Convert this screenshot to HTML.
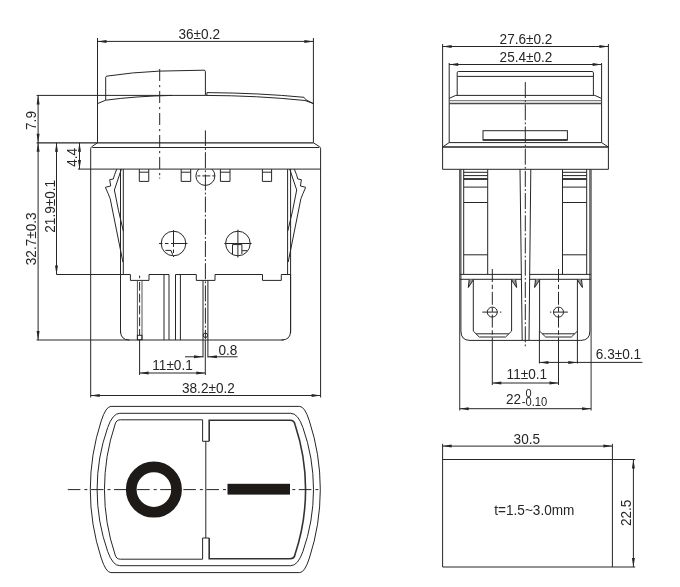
<!DOCTYPE html>
<html><head><meta charset="utf-8"><title>Rocker switch drawing</title>
<style>
html,body{margin:0;padding:0;background:#fff;}
svg{display:block;will-change:transform;opacity:0.999;}
svg *{vector-effect:none;}
text{font-family:"Liberation Sans",sans-serif;fill:#262626;stroke:none;}
</style></head><body>
<svg width="680" height="587" viewBox="0 0 680 587" fill="none" stroke="#262626" stroke-linecap="butt" stroke-linejoin="miter">
<rect x="0" y="0" width="680" height="587" fill="#fff" stroke="none"/>
<line x1="97.5" y1="38" x2="97.5" y2="142.8" stroke-width="1" />
<line x1="313.4" y1="38" x2="313.4" y2="142.8" stroke-width="1" />
<line x1="97.5" y1="41.4" x2="313.4" y2="41.4" stroke-width="1" />
<polygon points="97.50,41.40 106.50,39.90 106.50,42.90" fill="#262626" stroke="none"/>
<polygon points="313.40,41.40 304.40,42.90 304.40,39.90" fill="#262626" stroke="none"/>
<text x="0" y="0" font-size="13.6" text-anchor="start" transform="translate(178.5 38.8) scale(1 1.06)" >36±0.2</text>
<path d="M105.7,100.2 L105.7,77.3 Q105.7,76.3 107,76.1 Q132,72.3 159.6,71.1 L204,70.2 Q205.4,70.2 205.4,71.6 L205.4,95.4" stroke-width="1" />
<line x1="36.6" y1="95.4" x2="205.4" y2="95.4" stroke-width="1" />
<path d="M97.5,103.6 L105.7,100.2 Q135,96.2 172,95.4" stroke-width="1" />
<path d="M206.9,95.4 L206.9,92.6 Q260,93 304,97.3 L306,99.8 L313.4,103.6" stroke-width="1" />
<path d="M205.4,95.4 Q258,95.6 305,100.5 L313.4,103.6" stroke-width="1" />
<line x1="36.6" y1="142.8" x2="313.4" y2="142.8" stroke-width="1.2" />
<path d="M97.5,142.8 L91.6,146.8 Q90.7,147.5 90.7,148.6 L90.7,397.5" stroke-width="1" />
<path d="M313.4,142.8 L319.7,146.8 Q320.6,147.5 320.6,148.6 L320.6,397.5" stroke-width="1" />
<line x1="92.3" y1="147.5" x2="319.2" y2="147.5" stroke-width="1" />
<line x1="78" y1="169.1" x2="320.6" y2="169.1" stroke-width="1" />
<line x1="159.7" y1="69" x2="159.7" y2="176" stroke-width="1" stroke-dasharray="12 4 2.2 3.8"/>
<line x1="159.7" y1="177.6" x2="159.7" y2="178.6" stroke-width="1" />
<line x1="205.4" y1="130.4" x2="205.4" y2="339" stroke-width="1" stroke-dasharray="16 2.2 1.8 2.2" stroke-dashoffset="0.4"/>
<path d="M139.3,169.1 L139.3,181.4 L148.75,181.4 L148.75,169.1 M139.3,172.2 L148.75,172.2" stroke-width="1" />
<path d="M181.2,169.1 L181.2,181.4 L190.7,181.4 L190.7,169.1 M181.2,172.2 L190.7,172.2" stroke-width="1" />
<path d="M220.4,169.1 L220.4,181.4 L230,181.4 L230,169.1 M220.4,172.2 L230,172.2" stroke-width="1" />
<path d="M262.4,169.1 L262.4,181.4 L271.6,181.4 L271.6,169.1 M262.4,172.2 L271.6,172.2" stroke-width="1" />
<clipPath id="c1"><rect x="190" y="169.1" width="30" height="30"/></clipPath>
<circle cx="205.4" cy="175.9" r="9.5" stroke-width="1" clip-path="url(#c1)"/>
<line x1="197.3" y1="175.9" x2="215" y2="175.9" stroke-width="1" stroke-dasharray="3 2 8 2 3"/>
<line x1="120.5" y1="169.1" x2="120.5" y2="333" stroke-width="1" />
<line x1="123.3" y1="169.1" x2="123.3" y2="274.5" stroke-width="1" />
<line x1="287.6" y1="169.1" x2="287.6" y2="274.5" stroke-width="1" />
<line x1="290.6" y1="169.1" x2="290.6" y2="333" stroke-width="1" />
<path d="M116.8,169.1 L114.6,174.6 L113.3,179 L109.7,179.7 L110.7,186 L105.4,187.3 Q108.6,194.5 110.2,198.7 L122.9,262" stroke-width="1" />
<path d="M121.4,169.1 L114.4,190 Q118.0,210 123.3,231" stroke-width="1" />
<path d="M294.3,169.1 L296.5,174.6 L297.8,179 L301.4,179.7 L300.4,186 L305.7,187.3 Q302.5,194.5 300.9,198.7 L288.2,262" stroke-width="1" />
<path d="M289.7,169.1 L296.7,190 Q293.1,210 287.8,231" stroke-width="1" />
<circle cx="173.5" cy="243.5" r="12.3" stroke-width="1" />
<line x1="173.5" y1="243.5" x2="173.5" y2="230.2" stroke-width="1" />
<line x1="173.5" y1="243.5" x2="187.5" y2="243.5" stroke-width="1" />
<line x1="159" y1="243.5" x2="173.5" y2="243.5" stroke-width="1" stroke-dasharray="3.5 2.5"/>
<line x1="173.5" y1="243.5" x2="173.5" y2="257" stroke-width="1" stroke-dasharray="3.5 2.5"/>
<path d="M165.4,250.4 L171,250.4 L172.7,254.8" stroke-width="1" />
<circle cx="237.9" cy="243.5" r="12.3" stroke-width="1" />
<line x1="237.9" y1="229.7" x2="237.9" y2="257.5" stroke-width="1" />
<line x1="224.4" y1="243.5" x2="251.6" y2="243.5" stroke-width="1" />
<path d="M232.5,254 L232.5,244.6 L241.9,244.6 L241.9,254 M241.9,250.7 L247,250.7" stroke-width="1" />
<path d="M56.5,274.5 L130.4,274.5 L130.4,280.4 L149,280.4 L149,274.5 L169,274.5 M175.5,274.5 L196.3,274.5 L196.3,280.4 L215,280.4 L215,274.5 L262.5,274.5 L262.5,280.4 L281.3,280.4 L281.3,274.5 L290.6,274.5" stroke-width="1" />
<path d="M120.5,274.5 L120.5,331 Q120.5,340 129.5,340 M281.6,340 Q290.6,340 290.6,331 L290.6,274.5" stroke-width="1" />
<line x1="36.6" y1="340" x2="283.6" y2="340" stroke-width="1" />
<line x1="164" y1="274.5" x2="164" y2="340" stroke-width="1" />
<line x1="169" y1="274.5" x2="169" y2="340" stroke-width="1" />
<line x1="175.5" y1="274.5" x2="175.5" y2="340" stroke-width="1" />
<line x1="180.4" y1="274.5" x2="180.4" y2="340" stroke-width="1" />
<line x1="137.4" y1="280.4" x2="137.4" y2="340" stroke-width="1" stroke="#555"/>
<line x1="142" y1="280.4" x2="142" y2="340" stroke-width="1" stroke="#555"/>
<line x1="139.6" y1="275.6" x2="139.6" y2="278.2" stroke-width="1" />
<line x1="139.6" y1="281.9" x2="139.6" y2="335.3" stroke-width="1" stroke-dasharray="8.8 3"/>
<rect x="137.4" y="335.3" width="4.6" height="4.4" stroke-width="1" />
<line x1="203" y1="280.4" x2="203" y2="357.5" stroke-width="1" />
<line x1="207.9" y1="280.4" x2="207.9" y2="357.5" stroke-width="1" />
<circle cx="205.4" cy="335.3" r="2.2" stroke-width="1" />
<line x1="139.6" y1="340" x2="139.6" y2="375" stroke-width="1" />
<line x1="205.3" y1="340" x2="205.3" y2="375" stroke-width="1" />
<line x1="139.6" y1="373" x2="205.3" y2="373" stroke-width="1" />
<polygon points="139.60,373.00 148.60,371.50 148.60,374.50" fill="#262626" stroke="none"/>
<polygon points="205.30,373.00 196.30,374.50 196.30,371.50" fill="#262626" stroke="none"/>
<text x="0" y="0" font-size="13.6" text-anchor="start" transform="translate(152.3 370) scale(1 1.06)" >11±0.1</text>
<line x1="185" y1="356.8" x2="203" y2="356.8" stroke-width="1" />
<polygon points="203.00,356.80 194.00,358.30 194.00,355.30" fill="#262626" stroke="none"/>
<line x1="207.9" y1="356.8" x2="237.5" y2="356.8" stroke-width="1" />
<polygon points="207.90,356.80 216.90,355.30 216.90,358.30" fill="#262626" stroke="none"/>
<text x="0" y="0" font-size="13.6" text-anchor="start" transform="translate(218.5 355) scale(1 1.06)" >0.8</text>
<line x1="90.7" y1="395.5" x2="320.6" y2="395.5" stroke-width="1" />
<polygon points="90.70,395.50 99.70,394.00 99.70,397.00" fill="#262626" stroke="none"/>
<polygon points="320.60,395.50 311.60,397.00 311.60,394.00" fill="#262626" stroke="none"/>
<text x="0" y="0" font-size="13.6" text-anchor="start" transform="translate(182 392.6) scale(1 1.06)" >38.2±0.2</text>
<line x1="38.1" y1="95.4" x2="38.1" y2="142.8" stroke-width="1" />
<polygon points="38.10,95.40 39.60,104.40 36.60,104.40" fill="#262626" stroke="none"/>
<polygon points="38.10,142.80 36.60,133.80 39.60,133.80" fill="#262626" stroke="none"/>
<line x1="38.1" y1="142.8" x2="38.1" y2="340" stroke-width="1" />
<polygon points="38.10,142.80 39.60,151.80 36.60,151.80" fill="#262626" stroke="none"/>
<polygon points="38.10,340.00 36.60,331.00 39.60,331.00" fill="#262626" stroke="none"/>
<line x1="56.5" y1="142.8" x2="56.5" y2="274.5" stroke-width="1" />
<polygon points="56.50,142.80 58.00,151.80 55.00,151.80" fill="#262626" stroke="none"/>
<polygon points="56.50,274.50 55.00,265.50 58.00,265.50" fill="#262626" stroke="none"/>
<line x1="79.5" y1="142.8" x2="79.5" y2="169.1" stroke-width="1" />
<polygon points="79.50,142.80 81.00,151.80 78.00,151.80" fill="#262626" stroke="none"/>
<polygon points="79.50,169.10 78.00,160.10 81.00,160.10" fill="#262626" stroke="none"/>
<text x="0" y="0" font-size="13.6" text-anchor="middle" transform="translate(35.8 120.5) rotate(-90) scale(1 1.06)" >7.9</text>
<text x="0" y="0" font-size="13.6" text-anchor="middle" transform="translate(35.8 238.8) rotate(-90) scale(1 1.06)" >32.7±0.3</text>
<text x="0" y="0" font-size="13.6" text-anchor="middle" transform="translate(54.6 206.3) rotate(-90) scale(1 1.06)" >21.9±0.1</text>
<text x="0" y="0" font-size="13.6" text-anchor="middle" transform="translate(76.7 157.3) rotate(-90) scale(1 1.06)" >4.4</text>
<path d="M110.9,406.4 L299.70000000000005,406.4 Q304.70000000000005,406.4 309.40000000000003,421 A220.7,220.7 0 0 1 309.40000000000003,558.0 Q304.70000000000005,572.6 299.70000000000005,572.6 L110.9,572.6 Q105.9,572.6 101.2,558.0 A220.7,220.7 0 0 1 101.2,421 Q105.9,406.4 110.9,406.4 Z" stroke-width="1" />
<path d="M119.8,413.3 L290.8,413.3 Q297.90000000000003,413.3 302.90000000000003,427.5 A186.6,186.6 0 0 1 302.90000000000003,551.5 Q297.90000000000003,565.7 290.8,565.7 L119.8,565.7 Q112.7,565.7 107.7,551.5 A186.6,186.6 0 0 1 107.7,427.5 Q112.7,413.3 119.8,413.3 Z" stroke-width="1" />
<path d="M202.6,441.3 L202.6,419.8 L120.5,419.8 Q116.3,419.8 115.2,424 A205,205 0 0 0 115.2,555 Q116.3,559.2 120.5,559.2 L202.6,559.2 L202.6,538" stroke-width="1" />
<path d="M209.2,441.3 L209.2,420.3 L290.1,420.3 Q294.3,420.3 295.0,424.5 A205,205 0 0 1 295.0,554.5 Q294.3,558.7 290.1,558.7 L209.2,558.7 L209.2,538" stroke-width="1.6" stroke="#333"/>
<path d="M202.6,441.3 L209.2,441.3 M202.6,538 L209.2,538" stroke-width="1" />
<line x1="205.8" y1="441.3" x2="205.8" y2="538" stroke-width="1" />
<line x1="67.8" y1="489.6" x2="320.5" y2="489.6" stroke-width="1" stroke-dasharray="12.6 4 3 3.5"/>
<circle cx="153.9" cy="489.6" r="22.65" stroke-width="10.7" stroke="#1d1a17"/>
<rect x="227.5" y="483.8" width="62.5" height="10.8" fill="#1d1a17" stroke="none"/>
<line x1="442.6" y1="44" x2="442.6" y2="169.3" stroke-width="1" />
<line x1="608.4" y1="44" x2="608.4" y2="169.3" stroke-width="1" />
<line x1="442.6" y1="46.5" x2="608.4" y2="46.5" stroke-width="1" />
<polygon points="442.60,46.50 451.60,45.00 451.60,48.00" fill="#262626" stroke="none"/>
<polygon points="608.40,46.50 599.40,48.00 599.40,45.00" fill="#262626" stroke="none"/>
<text x="0" y="0" font-size="13.6" text-anchor="start" transform="translate(499.6 44) scale(1 1.06)" >27.6±0.2</text>
<line x1="449.2" y1="63" x2="449.2" y2="142.6" stroke-width="1" />
<line x1="601.6" y1="63" x2="601.6" y2="142.6" stroke-width="1" />
<line x1="449.2" y1="64.5" x2="601.6" y2="64.5" stroke-width="1" />
<polygon points="449.20,64.50 458.20,63.00 458.20,66.00" fill="#262626" stroke="none"/>
<polygon points="601.60,64.50 592.60,66.00 592.60,63.00" fill="#262626" stroke="none"/>
<text x="0" y="0" font-size="13.6" text-anchor="start" transform="translate(499.6 62.3) scale(1 1.06)" >25.4±0.2</text>
<path d="M457.2,95.4 L457.2,72.8 Q457.2,71.5 458.5,71.5 L592.1,71.5 Q593.4,71.5 593.4,72.8 L593.4,95.4" stroke-width="1" />
<line x1="457.2" y1="76.4" x2="593.4" y2="76.4" stroke-width="1" />
<path d="M449.2,98.4 L455.7,95.4 L594.8,95.4 L601.5,98.4" stroke-width="1" />
<line x1="449.2" y1="100.7" x2="601.6" y2="100.7" stroke-width="1" stroke="#666"/>
<line x1="449.2" y1="103.6" x2="601.6" y2="103.6" stroke-width="1.5" stroke="#4a4a4a"/>
<rect x="483" y="130.7" width="84.4" height="9.3" stroke-width="1" />
<line x1="483" y1="140" x2="567.4" y2="140" stroke-width="1.6" />
<path d="M442.6,147 L449.2,142.6 L601.6,142.6 L608.4,147" stroke-width="1" />
<line x1="442.6" y1="147" x2="608.4" y2="147" stroke-width="1.5" />
<line x1="442.6" y1="169.3" x2="608.4" y2="169.3" stroke-width="1" />
<line x1="525.3" y1="82.1" x2="525.3" y2="348" stroke-width="1" stroke-dasharray="16 2.2 1.8 2.2"/>
<line x1="459.7" y1="169.3" x2="459.7" y2="410.6" stroke-width="1.1" stroke="#444"/>
<line x1="460.9" y1="169.3" x2="460.9" y2="331" stroke-width="1" />
<line x1="463.7" y1="169.3" x2="463.7" y2="274.4" stroke-width="1" />
<line x1="487.7" y1="169.3" x2="487.7" y2="274.4" stroke-width="1" />
<line x1="562.5" y1="169.3" x2="562.5" y2="274.4" stroke-width="1" />
<line x1="586.7" y1="169.3" x2="586.7" y2="274.4" stroke-width="1" />
<line x1="591.1" y1="169.3" x2="591.1" y2="410.6" stroke-width="1.1" stroke="#444"/>
<line x1="589.9" y1="169.3" x2="589.9" y2="331" stroke-width="1" />
<line x1="463.7" y1="172.3" x2="487.7" y2="172.3" stroke-width="1" />
<line x1="463.7" y1="175.6" x2="487.7" y2="175.6" stroke-width="1" />
<line x1="463.7" y1="179" x2="487.7" y2="179" stroke-width="1.8" />
<line x1="463.7" y1="187.1" x2="487.7" y2="187.1" stroke-width="1" />
<line x1="463.7" y1="202.5" x2="487.7" y2="202.5" stroke-width="1" />
<line x1="463.7" y1="254.8" x2="487.7" y2="254.8" stroke-width="1" />
<line x1="562.5" y1="172.3" x2="586.7" y2="172.3" stroke-width="1" />
<line x1="562.5" y1="175.6" x2="586.7" y2="175.6" stroke-width="1" />
<line x1="562.5" y1="179" x2="586.7" y2="179" stroke-width="1.8" />
<line x1="562.5" y1="187.1" x2="586.7" y2="187.1" stroke-width="1" />
<line x1="562.5" y1="202.5" x2="586.7" y2="202.5" stroke-width="1" />
<line x1="562.5" y1="254.8" x2="586.7" y2="254.8" stroke-width="1" />
<line x1="520" y1="169.3" x2="522.2" y2="340.4" stroke-width="1" />
<line x1="530.8" y1="169.3" x2="529" y2="340.4" stroke-width="1" />
<line x1="460" y1="274.4" x2="521.3" y2="274.4" stroke-width="1" />
<line x1="460" y1="279.3" x2="521.4" y2="279.3" stroke-width="1" />
<line x1="529.6" y1="274.4" x2="590.8" y2="274.4" stroke-width="1" />
<line x1="529.6" y1="279.3" x2="590.8" y2="279.3" stroke-width="1" />
<path d="M473.3,279.3 L473.3,331.1 L479.3,337 L505.6,337 L511.6,331.1 L511.6,279.3" stroke-width="1" />
<line x1="476.1" y1="333.8" x2="508.8" y2="333.8" stroke-width="1" />
<path d="M469.2,279.3 L468.3,287.5 L473.3,280 M515.7,279.3 L516.6,287.5 L511.6,280" stroke-width="1" fill="#999"/>
<circle cx="492.3" cy="312.1" r="5" stroke-width="1" />
<line x1="482.3" y1="312.1" x2="497.5" y2="312.1" stroke-width="1" />
<line x1="499.90000000000003" y1="312.1" x2="501.3" y2="312.1" stroke-width="1" />
<line x1="492.3" y1="269" x2="492.3" y2="340" stroke-width="1" stroke-dasharray="13 2.7 4.4 2.7"/>
<line x1="492.3" y1="340" x2="492.3" y2="385" stroke-width="1" />
<path d="M539.6,279.3 L539.6,331.1 L545.6,337 L571.4,337 L577.4,331.1 L577.4,279.3" stroke-width="1" />
<line x1="542.4" y1="333.8" x2="574.6" y2="333.8" stroke-width="1" />
<path d="M535.5,279.3 L534.6,287.5 L539.6,280 M581.5,279.3 L582.4,287.5 L577.4,280" stroke-width="1" fill="#999"/>
<circle cx="558.5" cy="312.1" r="5" stroke-width="1" />
<line x1="553.3" y1="312.1" x2="567.9" y2="312.1" stroke-width="1" />
<line x1="549.9" y1="312.1" x2="551.3" y2="312.1" stroke-width="1" />
<line x1="558.5" y1="269" x2="558.5" y2="340" stroke-width="1" stroke-dasharray="13 2.7 4.4 2.7"/>
<line x1="558.5" y1="340" x2="558.5" y2="385" stroke-width="1" />
<path d="M460.9,331 Q460.9,340.4 470,340.4 L580.8,340.4 Q589.9,340.4 589.9,331" stroke-width="1" />
<line x1="539.4" y1="331" x2="539.4" y2="363.5" stroke-width="1" />
<line x1="577.4" y1="331" x2="577.4" y2="363.5" stroke-width="1" />
<line x1="539.4" y1="362.4" x2="642.4" y2="362.4" stroke-width="1" />
<polygon points="539.40,362.40 548.40,360.90 548.40,363.90" fill="#262626" stroke="none"/>
<polygon points="577.30,362.40 568.30,363.90 568.30,360.90" fill="#262626" stroke="none"/>
<text x="0" y="0" font-size="13.6" text-anchor="start" transform="translate(595.8 358.8) scale(1 1.06)" >6.3±0.1</text>
<line x1="492.3" y1="383" x2="558.5" y2="383" stroke-width="1" />
<polygon points="492.30,383.00 501.30,381.50 501.30,384.50" fill="#262626" stroke="none"/>
<polygon points="558.50,383.00 549.50,384.50 549.50,381.50" fill="#262626" stroke="none"/>
<text x="0" y="0" font-size="13.6" text-anchor="start" transform="translate(506.6 379) scale(1 1.06)" >11±0.1</text>
<line x1="459.7" y1="408.7" x2="591.1" y2="408.7" stroke-width="1" />
<polygon points="459.70,408.70 468.70,407.20 468.70,410.20" fill="#262626" stroke="none"/>
<polygon points="591.10,408.70 582.10,410.20 582.10,407.20" fill="#262626" stroke="none"/>
<text x="0" y="0" font-size="13.6" text-anchor="start" transform="translate(505.9 403.5) scale(1 1.06)" >22</text>
<text x="0" y="0" font-size="11" text-anchor="start" transform="translate(525.5 396.5) scale(1 1.06)" >0</text>
<text x="0" y="0" font-size="11.2" text-anchor="start" transform="translate(521.8 405.7) scale(1 1.06)" >-0.10</text>
<line x1="442.6" y1="443.8" x2="442.6" y2="567" stroke-width="1" />
<line x1="612.4" y1="443.8" x2="612.4" y2="567" stroke-width="1" />
<line x1="442.6" y1="446.1" x2="612.4" y2="446.1" stroke-width="1" />
<polygon points="442.60,446.10 451.60,444.60 451.60,447.60" fill="#262626" stroke="none"/>
<polygon points="612.40,446.10 603.40,447.60 603.40,444.60" fill="#262626" stroke="none"/>
<text x="0" y="0" font-size="13.6" text-anchor="start" transform="translate(513.6 444.3) scale(1 1.06)" >30.5</text>
<line x1="442.6" y1="459.5" x2="635.2" y2="459.5" stroke-width="1" />
<line x1="442.6" y1="567" x2="635.2" y2="567" stroke-width="1" />
<line x1="633.4" y1="459.5" x2="633.4" y2="567" stroke-width="1" />
<polygon points="633.40,459.50 634.90,468.50 631.90,468.50" fill="#262626" stroke="none"/>
<polygon points="633.40,567.00 631.90,558.00 634.90,558.00" fill="#262626" stroke="none"/>
<text x="0" y="0" font-size="13.6" text-anchor="middle" transform="translate(631 512.8) rotate(-90) scale(1 1.06)" >22.5</text>
<text x="0" y="0" font-size="13.6" text-anchor="start" transform="translate(494.3 514.7) scale(1 1.06)" >t=1.5~3.0mm</text>
</svg>
</body></html>
